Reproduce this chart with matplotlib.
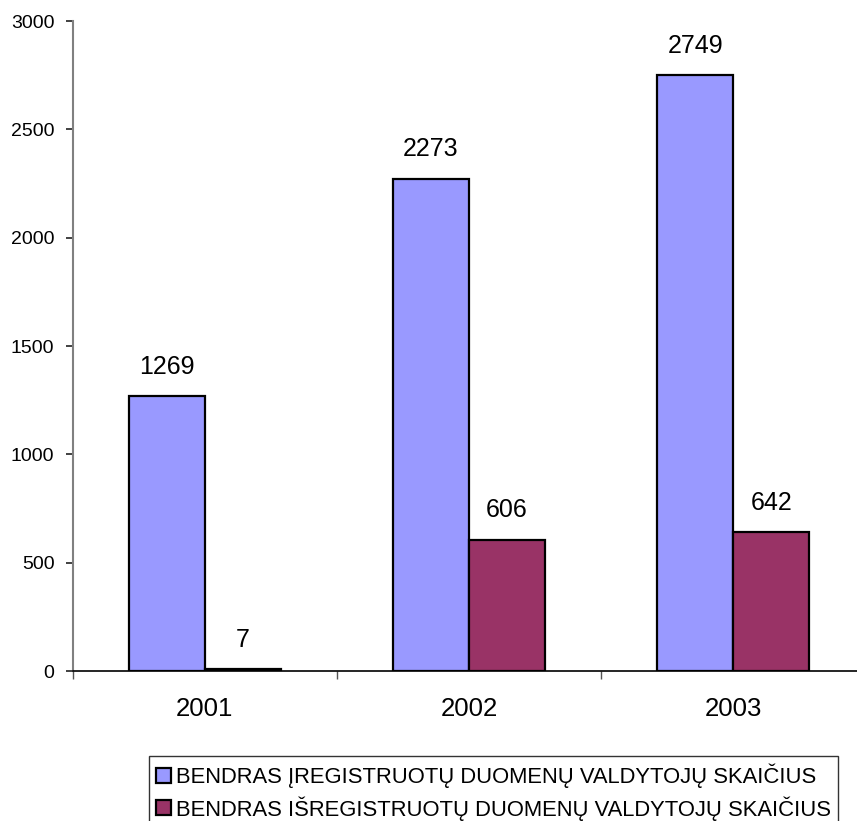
import matplotlib
matplotlib.use("Agg")
import matplotlib.pyplot as plt
import numpy as np

years = ["2001", "2002", "2003"]
registered = [1269, 2273, 2749]
deregistered = [7, 606, 642]
series_names = ["BENDRAS ĮREGISTRUOTŲ DUOMENŲ VALDYTOJŲ SKAIČIUS",
                "BENDRAS IŠREGISTRUOTŲ DUOMENŲ VALDYTOJŲ SKAIČIUS"]
y_ticks = [0, 500, 1000, 1500, 2000, 2500, 3000]

plt.rcParams['font.family'] = ['Liberation Sans', 'DejaVu Sans']

W, H = 857, 821
fig = plt.figure(figsize=(W / 100, H / 100), dpi=100)
ax = fig.add_axes([72.5 / W, (H - 671) / H, 793 / W, 650 / H])

x = np.arange(len(years))
bw = 0.2875
b1 = ax.bar(x - bw / 2, registered, bw, color="#9999FF", edgecolor="black",
            linewidth=1.6, label=series_names[0])
b2 = ax.bar(x + bw / 2, deregistered, bw, color="#993366", edgecolor="black",
            linewidth=1.6, label=series_names[1])

for bars, vals in ((b1, registered), (b2, deregistered)):
    for rect, v in zip(bars, vals):
        ax.annotate(str(v), (rect.get_x() + rect.get_width() / 2, rect.get_height()),
                    xytext=(0, 16), textcoords="offset points",
                    ha="center", va="baseline", fontsize=18)

ax.set_xlim(-0.5, 2.5)
ax.set_ylim(0, 3000)
ax.set_yticks(y_ticks)
ax.set_yticklabels([str(t) for t in y_ticks], fontsize=14)
ax.set_xticks(x)
ax.set_xticklabels(years, fontsize=18.5)
ax.set_xticks([-0.5, 0.5, 1.5, 2.5], minor=True)

ax.tick_params(axis="x", which="major", length=0, pad=19)
ax.tick_params(axis="x", which="minor", length=6, width=1, color="#555555", direction="out")
ax.tick_params(axis="y", which="major", length=5, width=1.3, color="#333333",
               direction="out", pad=8)

for s in ("top", "right"):
    ax.spines[s].set_visible(False)
ax.spines["left"].set_color("#808080")
ax.spines["left"].set_linewidth(1.5)
ax.spines["bottom"].set_color("black")
ax.spines["bottom"].set_linewidth(1.2)

leg = fig.legend(handles=[b1, b2], labels=series_names,
                 loc="upper left", bbox_to_anchor=(149 / W, (H - 756) / H),
                 fontsize=15.8, frameon=True, fancybox=False, borderaxespad=0,
                 handlelength=0.68, handleheight=0.68, handletextpad=0.2,
                 borderpad=0.33, labelspacing=0.38)
leg.get_frame().set_edgecolor("black")
leg.get_frame().set_linewidth(1.0)
for p in leg.get_patches():
    p.set_linewidth(1.6)

fig.savefig("out.png", dpi=100)
